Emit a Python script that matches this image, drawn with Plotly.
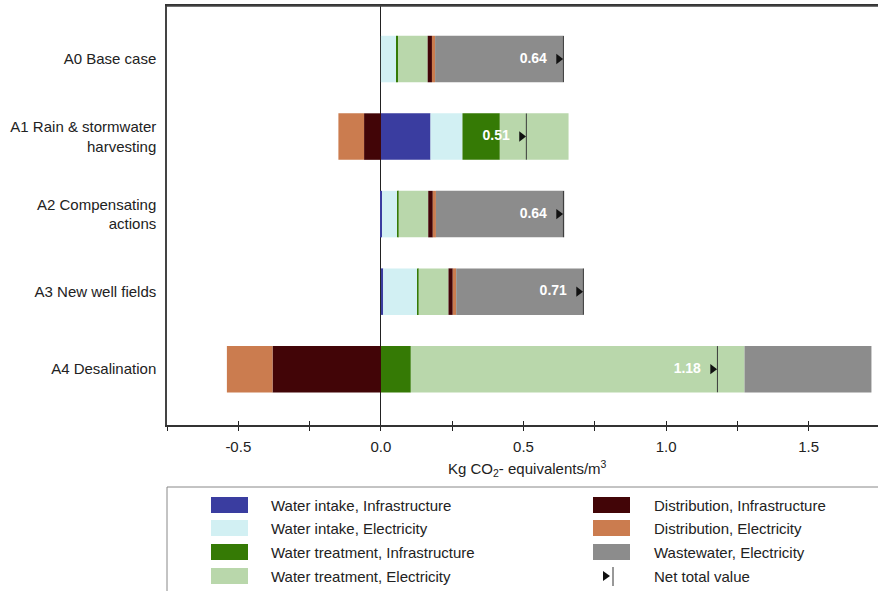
import plotly.graph_objects as go

categories = ["A0 Base case", "A1 Rain & stormwater<br>harvesting", "A2 Compensating<br>actions",
              "A3 New well fields", "A4 Desalination"]

intake_infra = [0.0, 0.174, 0.004, 0.008, 0.0]
intake_elec = [0.056, 0.112, 0.054, 0.120, 0.0]
treat_infra = [0.004, 0.131, 0.004, 0.004, 0.105]
treat_elec = [0.104, 0.241, 0.104, 0.105, 1.170]
dist_infra = [0.015, -0.059, 0.016, 0.015, -0.380]
dist_elec = [0.011, -0.090, 0.011, 0.012, -0.160]
wastewater = [0.450, 0.0, 0.450, 0.447, 0.445]
net_total = [0.64, 0.51, 0.64, 0.71, 1.18]

series_names = ["Water intake, Infrastructure", "Water intake, Electricity",
                "Water treatment, Infrastructure", "Water treatment, Electricity",
                "Distribution, Infrastructure", "Distribution, Electricity",
                "Wastewater, Electricity"]
series_values = [intake_infra, intake_elec, treat_infra, treat_elec, dist_infra, dist_elec, wastewater]
series_colors = ["#3a3da0", "#d2f0f3", "#357a05", "#b9d7ab", "#420507", "#cb7c4f", "#8c8c8c"]

x_ticks = [-0.5, 0.0, 0.5, 1.0, 1.5]
x_ticklabels = ["-0.5", "0.0", "0.5", "1.0", "1.5"]

FONT = "Liberation Sans, Arial, sans-serif"
W, H = 878, 591
ML, MT, MB = 167, 6, 166
plot_h = H - MT - MB
plot_w = W - ML

fig = go.Figure()
for name, vals, col in zip(series_names, series_values, series_colors):
    fig.add_trace(go.Bar(y=categories, x=vals, name=name, orientation="h",
                         marker=dict(color=col, line=dict(width=0)), width=0.6,
                         showlegend=False))

# net total vertical line (line-ns length = 1.4 * size)
fig.add_trace(go.Scatter(y=categories, x=net_total, mode="markers",
                         marker=dict(symbol="line-ns", size=33, line=dict(width=1, color="#3a3a3a")),
                         showlegend=False, hoverinfo="skip"))
# net triangle
fig.add_trace(go.Scatter(y=categories, x=[v - 0.017 for v in net_total], mode="markers",
                         marker=dict(symbol="triangle-right", size=9, color="#111111"),
                         showlegend=False, hoverinfo="skip"))
# net label
fig.add_trace(go.Scatter(y=categories, x=[v - 0.058 for v in net_total], mode="text",
                         text=[f"{v:.2f}" for v in net_total], textposition="middle left",
                         textfont=dict(family=FONT, size=14, color="white", weight="bold"),
                         showlegend=False, hoverinfo="skip"))
# dummy trace for inside ticks overlay axis
fig.add_trace(go.Scatter(x=[None], y=[None], xaxis="x2", showlegend=False, hoverinfo="skip"))

rng = [-0.75, 1.743]
fig.update_layout(
    width=W, height=H, margin=dict(l=ML, r=0, t=MT, b=MB),
    paper_bgcolor="white", plot_bgcolor="white",
    barmode="relative", showlegend=False,
    font=dict(family=FONT, size=15, color="#222222"),
    xaxis=dict(range=rng, tickvals=x_ticks, ticktext=x_ticklabels, ticks="outside", ticklen=4,
               tickcolor="#222", showgrid=False, zeroline=True, zerolinecolor="#222", zerolinewidth=1,
               showline=True, linecolor="#333", linewidth=1.5, mirror=True, automargin=False,
               minor=dict(dtick=0.25, tick0=0, ticks="outside", ticklen=4, tickcolor="#222"),
               ticklabelstandoff=3, tickfont=dict(size=15)),
    xaxis2=dict(overlaying="x", anchor="y", range=rng, side="bottom", tickvals=x_ticks,
                showticklabels=False, ticks="inside", ticklen=4, tickcolor="#222", showgrid=False,
                zeroline=False, showline=False, automargin=False,
                minor=dict(dtick=0.25, tick0=0, ticks="inside", ticklen=4, tickcolor="#222")),
    yaxis=dict(range=[4.72, -0.684], showgrid=False, showline=True, linecolor="#444", linewidth=1.5,
               ticks="", ticklabelstandoff=6, automargin=False, tickfont=dict(size=15)),
)


def py(ypix):
    return (H - MB - ypix) / plot_h


def px(xpix):
    return (xpix - ML) / plot_w


annotations = [dict(xref="paper", yref="paper", x=px(527), y=py(468),
                    text="Kg CO<sub>2</sub>- equivalents/m<sup>3</sup>", showarrow=False,
                    xanchor="center", yanchor="middle", font=dict(family=FONT, size=15, color="#222"))]

shapes = [
    # top border of the plot box
    dict(type="line", xref="paper", yref="paper", x0=0, x1=1, y0=1, y1=1,
         line=dict(color="#444", width=1.5), layer="above"),
    # legend panel (drawn manually)
    dict(type="rect", xref="paper", yref="paper", x0=px(167), x1=px(880), y0=py(487), y1=py(593),
         line=dict(color="#888888", width=1), fillcolor="white", layer="above"),
]
legend_items = list(zip(series_names, series_colors))
left_col = [legend_items[i] for i in (0, 1, 2, 3)]
right_col = [legend_items[i] for i in (4, 5, 6)]
rows_y = [505, 528, 552, 576]
for col_items, sx0, sx1, tx in [(left_col, 211, 248, 269), (right_col, 593, 630, 652)]:
    for (name, color), ry in zip(col_items, rows_y):
        shapes.append(dict(type="rect", xref="paper", yref="paper", x0=px(sx0), x1=px(sx1),
                           y0=py(ry + 8), y1=py(ry - 8), fillcolor=color, line=dict(width=0),
                           layer="above"))
        annotations.append(dict(xref="paper", yref="paper", x=px(tx), y=py(ry), text=name,
                                showarrow=False, xanchor="left", yanchor="middle",
                                font=dict(family=FONT, size=15, color="#222")))
# net total legend symbol
shapes.append(dict(type="path", xref="paper", yref="paper",
                   path=f"M {px(603)} {py(571)} L {px(610)} {py(576)} L {px(603)} {py(581)} Z",
                   fillcolor="#111", line=dict(width=0), layer="above"))
shapes.append(dict(type="line", xref="paper", yref="paper", x0=px(613), x1=px(613),
                   y0=py(567), y1=py(586), line=dict(color="#333", width=1), layer="above"))
annotations.append(dict(xref="paper", yref="paper", x=px(652), y=py(576), text="Net total value",
                        showarrow=False, xanchor="left", yanchor="middle",
                        font=dict(family=FONT, size=15, color="#222")))
fig.update_layout(shapes=shapes, annotations=annotations)

fig.write_html("out.html", config={"displayModeBar": False},
               post_script="document.body.style.margin='0';document.body.style.overflow='hidden';")
